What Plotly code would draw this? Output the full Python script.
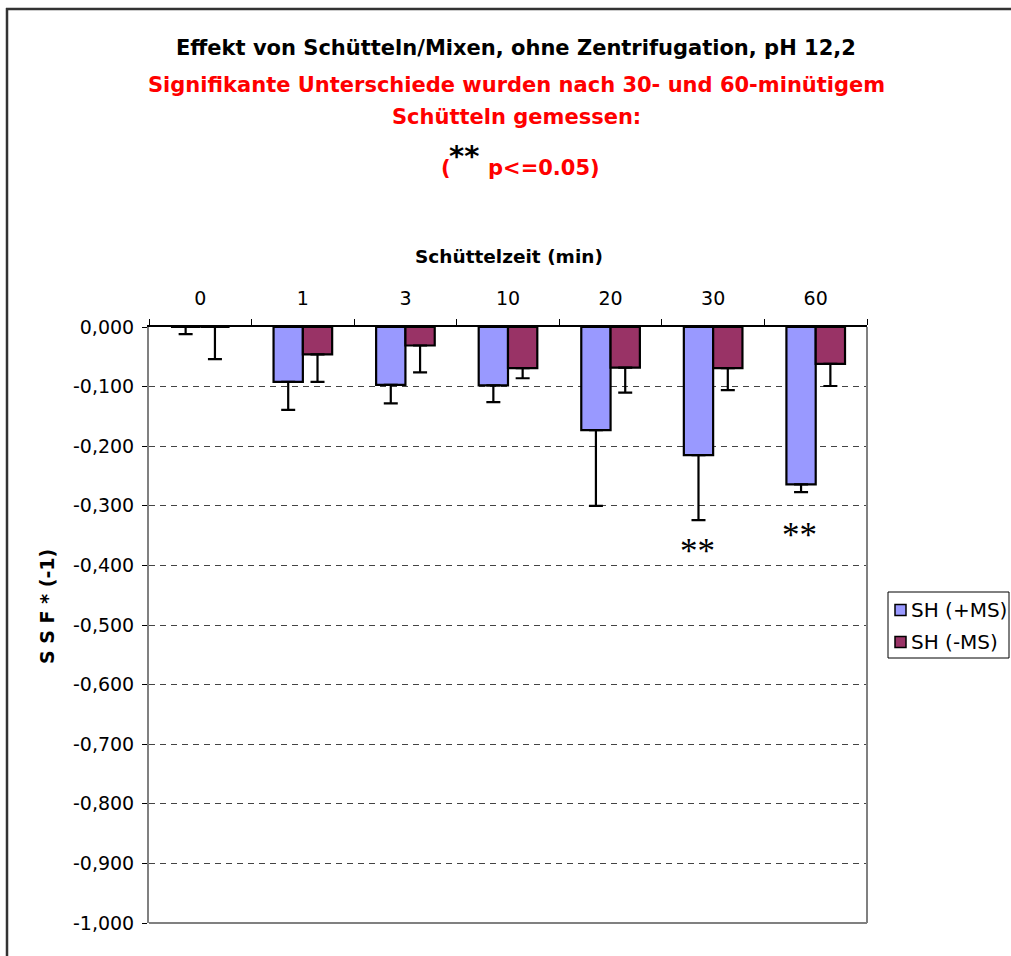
import plotly.graph_objects as go

# Shaking time categories (minutes)
categories = ["0", "1", "3", "10", "20", "30", "60"]

# SSF * (-1), with shaking aid (+MS) and without (-MS)
sh_plus_ms = [0.0, -0.092, -0.097, -0.098, -0.173, -0.215, -0.264]
sh_plus_ms_err = [0.012, 0.047, 0.031, 0.028, 0.127, 0.109, 0.013]
sh_minus_ms = [0.0, -0.046, -0.031, -0.069, -0.068, -0.069, -0.062]
sh_minus_ms_err = [0.054, 0.046, 0.045, 0.017, 0.042, 0.037, 0.037]

series_names = ["SH (+MS)", "SH (-MS)"]
series_colors = ["#9999FF", "#993366"]

# categories marked as significant, with the level of the marker
significant = ["30", "60"]
significant_marker_y = [-0.377, -0.349]

y_tickvals = [0, -0.1, -0.2, -0.3, -0.4, -0.5, -0.6, -0.7, -0.8, -0.9, -1.0]
y_ticktext = ["0,000", "-0,100", "-0,200", "-0,300", "-0,400", "-0,500",
              "-0,600", "-0,700", "-0,800", "-0,900", "-1,000"]

FONT = "DejaVu Sans, Verdana, sans-serif"
SERIF = "Liberation Serif, Times New Roman, serif"

# plot area in pixels
W, H = 1011, 956
L, R, T, B = 149, 867, 327, 923


def px(x):
    return (x - L) / (R - L)


def py(y):
    return (B - y) / (B - T)


fig = go.Figure()
for vals, errs, name, color in [
    (sh_plus_ms, sh_plus_ms_err, series_names[0], series_colors[0]),
    (sh_minus_ms, sh_minus_ms_err, series_names[1], series_colors[1]),
]:
    fig.add_trace(go.Bar(
        x=categories, y=vals, name=name,
        marker=dict(color=color, line=dict(color="black", width=2.2)),
        error_y=dict(type="data", symmetric=False, array=[0] * len(errs),
                     arrayminus=errs, color="black", thickness=2.2, width=7),
        showlegend=False,
    ))

annotations = []
# stacked title lines
annotations.append(dict(text="<b>Effekt von Schütteln/Mixen, ohne Zentrifugation, pH 12,2</b>",
                        x=px(516), y=py(48), font=dict(size=21, color="black")))
annotations.append(dict(text="<b>Signifikante Unterschiede wurden nach 30- und 60-minütigem</b>",
                        x=px(516), y=py(85), font=dict(size=21, color="#FF0000")))
annotations.append(dict(text="<b>Schütteln gemessen:</b>",
                        x=px(516), y=py(117), font=dict(size=21, color="#FF0000")))
annotations.append(dict(text="<b>(</b>", x=px(446), y=py(168),
                        font=dict(size=21, color="#FF0000")))
annotations.append(dict(text="<b>**</b>", x=px(464), y=py(156),
                        font=dict(size=29, color="black")))
annotations.append(dict(text="<b>p&lt;=0.05)</b>", x=px(486), y=py(168), xanchor="left",
                        font=dict(size=21, color="#FF0000")))
# axis titles
annotations.append(dict(text="<b>Schüttelzeit (min)</b>", x=px(509), y=py(256),
                        font=dict(size=18.5, color="black")))
annotations.append(dict(text="<b>S S F * (-1)</b>", x=px(47), y=py(607), textangle=-90,
                        font=dict(size=19, color="black")))
# legend entries
for i, (name, color) in enumerate(zip(series_names, series_colors)):
    yc = 610 + 32 * i
    annotations.append(dict(text=name, x=px(909), y=py(yc), xanchor="left",
                            font=dict(size=20, color="black")))
for a in annotations:
    a.setdefault("xref", "paper")
    a.setdefault("yref", "paper")
    a.setdefault("showarrow", False)
    a.setdefault("xanchor", "center")
    a.setdefault("yanchor", "middle")
    fig.add_annotation(**a)

# significance markers over the +MS bars
for cat, yv in zip(significant, significant_marker_y):
    fig.add_annotation(x=categories.index(cat), y=yv, xref="x", yref="y", xshift=-16,
                       showarrow=False, text="**",
                       font=dict(family=SERIF, size=35, color="black"),
                       xanchor="center", yanchor="middle")

shapes = []
# outer chart frame (top and left edges)
shapes.append(dict(type="line", xref="paper", yref="paper",
                   x0=px(6), x1=px(1030), y0=py(9), y1=py(9),
                   line=dict(color="#333333", width=2.5)))
shapes.append(dict(type="line", xref="paper", yref="paper",
                   x0=px(7), x1=px(7), y0=py(8), y1=py(990),
                   line=dict(color="#333333", width=2.5)))
# plot area right and bottom borders
shapes.append(dict(type="line", xref="paper", yref="paper", x0=0, x1=1, y0=0, y1=0,
                   line=dict(color="#808080", width=2)))
shapes.append(dict(type="line", xref="paper", yref="paper", x0=1, x1=1, y0=0, y1=1,
                   line=dict(color="#808080", width=2)))
# legend box and swatches
shapes.append(dict(type="rect", xref="paper", yref="paper",
                   x0=px(888), x1=px(1009), y0=py(658), y1=py(592),
                   line=dict(color="black", width=1), fillcolor="white"))
for i, color in enumerate(series_colors):
    yc = 610 + 32 * i
    shapes.append(dict(type="rect", xref="paper", yref="paper",
                       x0=px(895), x1=px(906), y0=py(yc + 5.5), y1=py(yc - 5.5),
                       line=dict(color="black", width=1.5), fillcolor=color))
for s in shapes:
    fig.add_shape(**s)

fig.update_layout(
    width=W, height=H,
    margin=dict(l=L, r=W - R, t=T, b=H - B, pad=0),
    paper_bgcolor="white", plot_bgcolor="white",
    font=dict(family=FONT, color="black"),
    barmode="group", bargap=0.4286, bargroupgap=0,
    showlegend=False,
)
fig.update_xaxes(
    side="top", type="category", tickson="boundaries",
    range=[-0.5, len(categories) - 0.5],
    showline=True, linecolor="black", linewidth=1.5,
    ticks="outside", ticklen=6, tickcolor="black", tickwidth=1,
    tickfont=dict(size=19), ticklabelstandoff=13,
    showgrid=False, zeroline=False,
)
fig.update_yaxes(
    range=[-1.0, 0.0], tickvals=y_tickvals, ticktext=y_ticktext,
    showline=True, linecolor="#808080", linewidth=2,
    ticks="outside", ticklen=5, tickcolor="black", tickwidth=1,
    tickfont=dict(size=19), ticklabelstandoff=4,
    showgrid=True, gridcolor="#444444", gridwidth=1, griddash="6px,5px",
    zeroline=False,
)

fig.write_html("out.html", config={"displayModeBar": False})
